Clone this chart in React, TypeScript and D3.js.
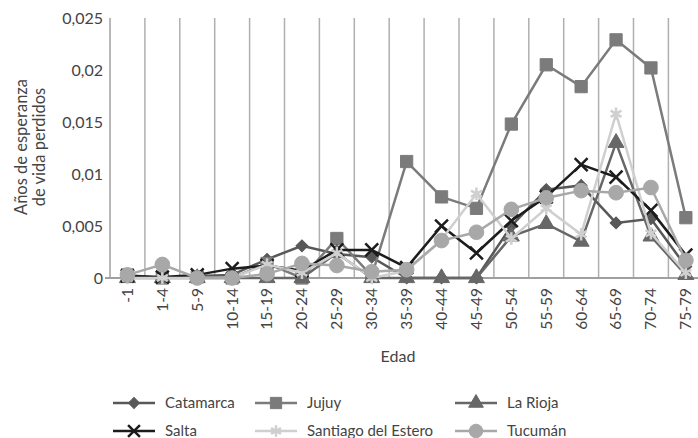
import { useRef, useEffect } from "react";
import * as d3 from "d3";

const categories = ["-1", "1-4", "5-9", "10-14", "15-19", "20-24", "25-29", "30-34", "35-39", "40-44", "45-49", "50-54", "55-59", "60-64", "65-69", "70-74", "75-79"];

const catamarca = [0.0002, 0, 0.0002, 0.0003, 0.0018, 0.0031, 0.0023, 0.002, 0, 0, 0, 0.005, 0.0085, 0.0089, 0.0053, 0.0057, 0.0011];
const jujuy = [0.0003, 0, 0.0001, 0, 0.0014, 0, 0.0038, 0.0002, 0.0112, 0.0078, 0.0067, 0.0148, 0.0205, 0.0184, 0.0229, 0.0202, 0.0058];
const laRioja = [0, 0, 0, 0, 0, 0, 0.0024, 0, 0, 0, 0, 0.004, 0.0052, 0.0035, 0.013, 0.004, 0.0003];
const salta = [0.0002, 0.0001, 0.0003, 0.0009, 0.0012, 0.0007, 0.0027, 0.0027, 0.001, 0.005, 0.0024, 0.0055, 0.0078, 0.0109, 0.0097, 0.0065, 0.0022];
const santiago = [0, 0, 0, 0, 0.0013, 0.0005, 0.0024, 0, 0.0007, 0.0037, 0.0081, 0.0038, 0.0067, 0.0042, 0.0158, 0.0043, 0.0005];
const tucuman = [0.0003, 0.0013, 0, 0, 0.0004, 0.0014, 0.0012, 0.0006, 0.0008, 0.0036, 0.0044, 0.0066, 0.0077, 0.0084, 0.0082, 0.0087, 0.0017];

const yTicks = [0, 0.005, 0.01, 0.015, 0.02, 0.025];

const series = [
  { name: "Catamarca", values: catamarca, color: "#585858", symbol: d3.symbolSquare, size: 70, rotate: 45, filled: true },
  { name: "Jujuy", values: jujuy, color: "#7b7b7b", symbol: d3.symbolSquare, size: 150, rotate: 0, filled: true },
  { name: "La Rioja", values: laRioja, color: "#676767", symbol: d3.symbolTriangle, size: 110, rotate: 0, filled: true },
  { name: "Salta", values: salta, color: "#1c1c1c", symbol: d3.symbolTimes, size: 110, rotate: 0, filled: false },
  { name: "Santiago del Estero", values: santiago, color: "#cfcfcf", symbol: d3.symbolAsterisk, size: 110, rotate: 0, filled: false },
  { name: "Tucumán", values: tucuman, color: "#a8a8a8", symbol: d3.symbolCircle, size: 170, rotate: 0, filled: true },
];

const App = () => {
  const ref = useRef<SVGSVGElement | null>(null);

  useEffect(() => {
    if (ref.current === null) return;
    const width = 698;
    const height = 438;
    const left = 110;
    const top = 18;
    const bottom = 278;
    const step = 34.9;
    const font = "Lato, 'Open Sans', sans-serif";
    const fs = 16;
    const textColor = "#444";

    const svg = d3.select(ref.current);
    svg.selectAll("*").remove();
    svg.attr("width", width).attr("height", height);

    const x = d3
      .scaleBand()
      .domain(categories)
      .range([left, left + step * categories.length])
      .padding(0);
    const y = d3.scaleLinear().domain([0, 0.025]).range([bottom, top]);
    const cx = (c: string) => (x(c) ?? 0) + x.bandwidth() / 2;

    // vertical grid lines between categories
    svg
      .append("g")
      .selectAll("line")
      .data(categories.slice(1))
      .enter()
      .append("line")
      .attr("x1", (d) => x(d) ?? 0)
      .attr("x2", (d) => x(d) ?? 0)
      .attr("y1", top)
      .attr("y2", bottom)
      .attr("stroke", "#b0b0b0")
      .attr("stroke-width", 1.5);

    // axes
    svg
      .append("line")
      .attr("x1", left)
      .attr("x2", left)
      .attr("y1", top)
      .attr("y2", bottom)
      .attr("stroke", "#a0a0a0")
      .attr("stroke-width", 1.5);
    svg
      .append("line")
      .attr("x1", left - 5)
      .attr("x2", width)
      .attr("y1", bottom)
      .attr("y2", bottom)
      .attr("stroke", "#a0a0a0")
      .attr("stroke-width", 2);

    const fmt = (v: number) => (v === 0 ? "0" : String(v).replace(".", ","));
    svg
      .append("g")
      .selectAll("text")
      .data(yTicks)
      .enter()
      .append("text")
      .attr("x", 103)
      .attr("y", (d) => y(d))
      .attr("dy", "0.35em")
      .attr("text-anchor", "end")
      .attr("font-family", font)
      .attr("font-size", fs)
      .attr("fill", textColor)
      .text(fmt);

    svg
      .append("g")
      .selectAll("text")
      .data(categories)
      .enter()
      .append("text")
      .attr("transform", (d) => `translate(${cx(d)},${bottom + 10}) rotate(-90)`)
      .attr("dy", "0.35em")
      .attr("text-anchor", "end")
      .attr("font-family", font)
      .attr("font-size", 15.5)
      .attr("fill", textColor)
      .text((d) => d);

    svg
      .append("text")
      .attr("x", 398)
      .attr("y", 362)
      .attr("text-anchor", "middle")
      .attr("font-family", font)
      .attr("font-size", fs)
      .attr("fill", textColor)
      .text("Edad");

    const yTitle = svg
      .append("text")
      .attr("transform", `translate(0,147) rotate(-90)`)
      .attr("text-anchor", "middle")
      .attr("font-family", font)
      .attr("font-size", 16.5)
      .attr("fill", textColor);
    yTitle.append("tspan").attr("x", 0).attr("y", 27).text("Años de esperanza");
    yTitle.append("tspan").attr("x", 0).attr("y", 45).text("de vida perdidos");

    const line = d3
      .line<number>()
      .x((_, i) => cx(categories[i]))
      .y((d) => y(d));

    const drawMarker = (
      g: d3.Selection<SVGGElement, unknown, null, undefined>,
      s: (typeof series)[number],
      px: number,
      py: number,
      scale = 1
    ) => {
      g.append("path")
        .attr("d", d3.symbol(s.symbol, s.size * scale)())
        .attr("transform", `translate(${px},${py}) rotate(${s.rotate})`)
        .attr("fill", s.filled ? s.color : "none")
        .attr("stroke", s.color)
        .attr("stroke-width", s.filled ? 1 : 2.5);
    };

    series.forEach((s) => {
      const g = svg.append("g");
      g.append("path")
        .attr("d", line(s.values))
        .attr("fill", "none")
        .attr("stroke", s.color)
        .attr("stroke-width", 2.5);
      s.values.forEach((v, i) => drawMarker(g, s, cx(categories[i]), y(v)));
    });

    // legend
    const cols = [113, 255, 455];
    const rows = [403, 431];
    series.forEach((s, i) => {
      const lx = cols[i % 3];
      const ly = rows[Math.floor(i / 3)];
      const g = svg.append("g");
      g.append("line")
        .attr("x1", lx)
        .attr("x2", lx + 42)
        .attr("y1", ly)
        .attr("y2", ly)
        .attr("stroke", s.color)
        .attr("stroke-width", 2.5);
      drawMarker(g, s, lx + 21, ly, 0.85);
      g.append("text")
        .attr("x", lx + 52)
        .attr("y", ly)
        .attr("dy", "0.35em")
        .attr("font-family", font)
        .attr("font-size", 15)
        .attr("fill", textColor)
        .text(s.name);
    });
  }, []);

  return <svg ref={ref} style={{ position: "absolute", left: 0, top: 0 }} />;
};

export default App;
